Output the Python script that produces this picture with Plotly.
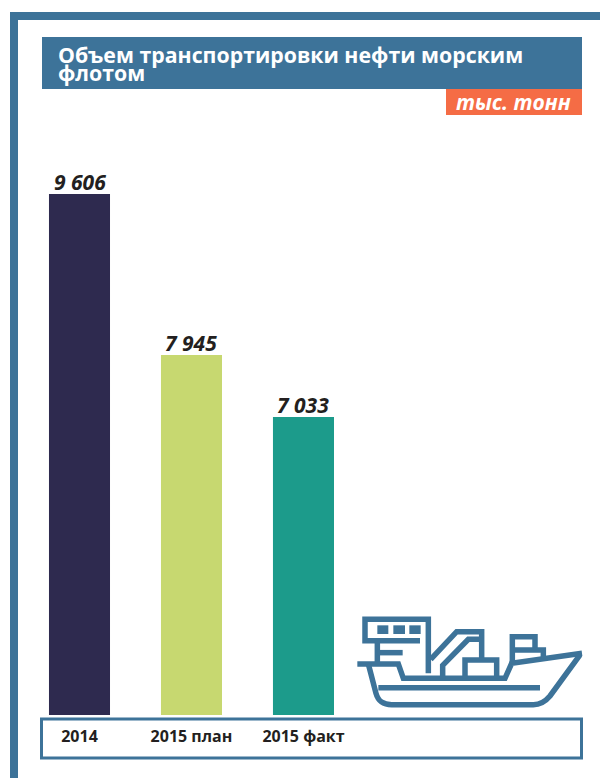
"""Объем транспортировки нефти морским флотом: bar chart with ship pictogram."""
import plotly.graph_objects as go

W, H = 600, 778
BLUE = "#3d7399"

categories = ["2014", "2015 план", "2015 факт"]
labels     = ["9 606", "7 945", "7 033"]
# the source bars are not drawn to scale with their labels, so the drawn
# heights are read off the picture, in units where the 2014 bar is 9606
heights    = [9606, 6638, 5495]
colors     = ["#2e2a4f", "#c7d870", "#1c9b8b"]


def px(x, y):
    return x / W, 1 - y / H


def rect(x0, y0, x1, y1, fill=BLUE, line=None, width=0):
    xa, ya = px(x0, y0)
    xb, yb = px(x1, y1)
    return dict(type="rect", xref="paper", yref="paper", x0=xa, y0=ya, x1=xb, y1=yb,
                fillcolor=fill, line=dict(color=line or fill, width=width), layer="below")


def ship(points):
    """Path through points given in the coordinates of the icon crop (3x, from 340,600)."""
    out = []
    for cmd, *pts in points:
        conv = [px(340 + a / 3, 600 + b / 3) for a, b in pts]
        out.append(cmd + " ".join(f"{a:.5f},{b:.5f}" for a, b in conv))
    return dict(type="path", xref="paper", yref="paper", path=" ".join(out),
                line=dict(color=BLUE, width=5.5), layer="above")


def note(x, y, text, size, color, italic=False, xanchor="left"):
    xa, ya = px(x, y)
    return dict(xref="paper", yref="paper", x=xa, y=ya, text=text, showarrow=False,
                xanchor=xanchor, yanchor="middle", align="left",
                font=dict(family="Open Sans", size=size, color=color, weight="bold",
                          style="italic" if italic else "normal"))


ship_lines = [
    [("M", (265, 220)), ("L", (265, 58)), ("L", (75, 58)), ("L", (75, 122)), ("L", (240, 122))],
    [("M", (112, 122)), ("L", (112, 190))],
    [("M", (112, 158)), ("L", (188, 158))],
    # deck and bow
    [("M", (52, 192)), ("L", (175, 192)), ("L", (190, 235)), ("L", (495, 235)),
     ("L", (515, 190)), ("L", (726, 160))],
    # hull
    [("M", (85, 192)), ("L", (108, 280)), ("C", (115, 305), (130, 314), (155, 314)),
     ("L", (580, 314)), ("C", (605, 314), (620, 300), (630, 288)), ("L", (720, 165))],
    [("M", (115, 263)), ("L", (600, 263))],
    # crane
    [("M", (272, 178)), ("L", (350, 95)), ("L", (425, 95)), ("L", (425, 178))],
    [("M", (308, 235)), ("L", (308, 196)), ("L", (385, 118)), ("L", (420, 118))],
    [("M", (375, 235)), ("L", (375, 180)), ("L", (470, 180)), ("L", (470, 235))],
    # aft cabin
    [("M", (517, 190)), ("L", (517, 110)), ("L", (585, 110)), ("L", (585, 150))],
    [("M", (520, 150)), ("L", (610, 150)), ("L", (610, 175))],
]

shapes = [
    rect(10, 12, 18, 778),
    rect(10, 12, 600, 20),
    rect(42, 37, 582, 89),
    rect(446, 89, 582, 115, fill="#f56c45"),
    rect(41.5, 719, 581.5, 758, fill="white", line=BLUE, width=3),
]
shapes += [rect(340 + a / 3, 600 + 76 / 3, 340 + b / 3, 600 + 102 / 3)
           for a, b in [(112, 145), (160, 195), (208, 242)]]
for s in shapes[-3:]:
    s["layer"] = "above"
shapes += [ship(p) for p in ship_lines]

fig = go.Figure(go.Bar(
    x=categories, y=heights, marker=dict(color=colors, line_width=0), hoverinfo="skip",
))
annotations = [
    note(55.5, 54, "Объем транспортировки нефти морским", 21.3, "white"),
    note(55.5, 73, "флотом", 21.3, "white"),
    note(573, 102, "тыс. тонн", 21, "white", italic=True, xanchor="right"),
]
# annotations on a category axis take the category's index
for i, (val, lab) in enumerate(zip(heights, labels)):
    annotations.append(dict(
        x=i, y=val, xref="x", yref="y", text=lab, showarrow=False,
        yanchor="bottom", yshift=-4,
        font=dict(family="Open Sans", size=21, color="#231f20", weight="bold", style="italic"),
    ))
fig.update_layout(
    width=W, height=H, autosize=False,
    margin=dict(l=0, r=0, t=0, b=0),
    template="none", plot_bgcolor="rgba(0,0,0,0)", paper_bgcolor="white",
    showlegend=False, bargap=0.455,
    shapes=shapes, annotations=annotations,
)
fig.update_xaxes(
    type="category", range=[-0.5, 4.487], domain=[23.5 / W, 582 / W],
    showgrid=False, zeroline=False, showline=False, ticks="", ticklabelstandoff=10,
    tickfont=dict(family="Open Sans", size=16, color="#231f20", weight="bold"),
)
fig.update_yaxes(
    range=[0, 9606 * 565 / 521], domain=[1 - 715 / H, 1 - 150 / H],
    visible=False,
)
fig.write_html("out.html", config=dict(displayModeBar=False),
               post_script="document.body.style.margin='0';")
